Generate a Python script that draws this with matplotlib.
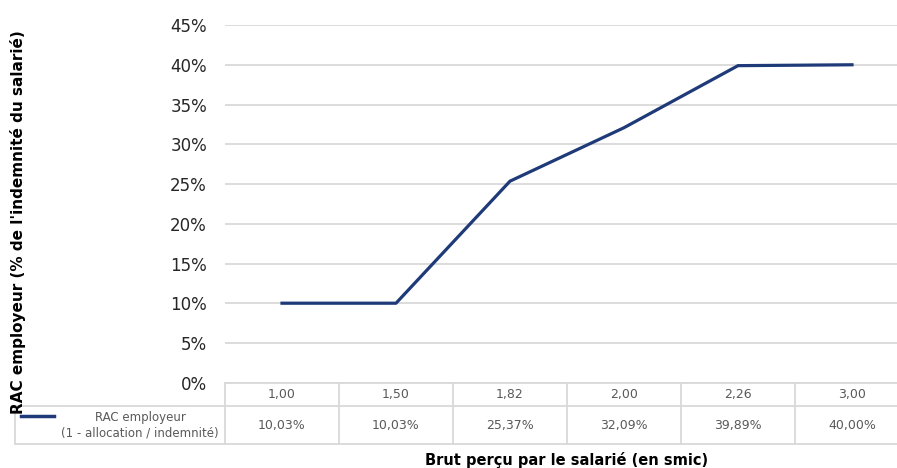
import matplotlib.pyplot as plt
from matplotlib.transforms import blended_transform_factory

# Reste à charge employeur selon le salaire brut (en smic)
salaire_smic = ['1,00', '1,50', '1,82', '2,00', '2,26', '3,00']
rac_employeur = [10.03, 10.03, 25.37, 32.09, 39.89, 40.00]
rac_labels = ['10,03%', '10,03%', '25,37%', '32,09%', '39,89%', '40,00%']
y_ticks = [0, 5, 10, 15, 20, 25, 30, 35, 40, 45]
serie_label = 'RAC employeur\n(1 - allocation / indemnité)'

NAVY = '#1F3A78'
GRID = '#D9D9D9'
TXT = '#595959'

plt.rcParams['font.family'] = ['DejaVu Sans']

W, H = 897, 468
fig = plt.figure(figsize=(W / 100, H / 100), dpi=100)


def fy(px):
    # pixel row from the top -> figure fraction
    return (H - px) / H


ax = fig.add_axes([225 / W, fy(383), (909 - 225) / W, (383 - 25) / H])
x = list(range(len(salaire_smic)))
ax.plot(x, rac_employeur, color=NAVY, lw=2.3, zorder=3)
ax.set_xlim(-0.5, len(x) - 0.5)
ax.set_ylim(0, 45)
ax.set_yticks(y_ticks)
ax.set_yticklabels([f'{v}%' for v in y_ticks], fontsize=12, color='#262626')
ax.set_xticks([])
ax.yaxis.grid(True, color=GRID, lw=1.3)
ax.set_axisbelow(True)
for s in ax.spines.values():
    s.set_visible(False)
ax.tick_params(axis='y', length=0, pad=13)

# data table under the plot
tr = blended_transform_factory(ax.transData, fig.transFigure)
lw_tab = 1.3
row_top, row_mid, row_bot = fy(383), fy(406), fy(444)
x0, x1 = -0.5, len(x) - 0.5

ax.plot([x0, x1], [row_top, row_top], transform=tr, color=GRID, lw=lw_tab, clip_on=False)
for yy in (row_mid, row_bot):
    fig.add_artist(plt.Line2D([15 / W, 1.02], [yy, yy], color=GRID, lw=lw_tab))
for i in range(len(x) + 1):
    ax.plot([i - 0.5, i - 0.5], [row_top, row_bot], transform=tr, color=GRID, lw=lw_tab, clip_on=False)
fig.add_artist(plt.Line2D([15 / W, 15 / W], [row_mid, row_bot], color=GRID, lw=lw_tab))

for i, (s, v) in enumerate(zip(salaire_smic, rac_labels)):
    ax.text(i, (row_top + row_mid) / 2, s, transform=tr, ha='center', va='center',
            fontsize=9, color=TXT)
    ax.text(i, (row_mid + row_bot) / 2, v, transform=tr, ha='center', va='center',
            fontsize=9, color=TXT)

# legend key in the first column of the table
fig.add_artist(plt.Line2D([21 / W, 54 / W], [fy(416), fy(416)], color=NAVY, lw=2.5))
fig.text(140 / W, (row_mid + row_bot) / 2, serie_label, ha='center', va='center',
         fontsize=8.5, color=TXT, linespacing=1.2)

fig.text((225 + 909) / 2 / W, fy(460), 'Brut perçu par le salarié (en smic)',
         ha='center', va='center', fontsize=10.5, fontweight='bold', color='black')
fig.text(18 / W, fy(222), "RAC employeur (% de l'indemnité du salarié)",
         ha='center', va='center', rotation=90, fontsize=11, fontweight='bold', color='black')

fig.savefig('out.png', dpi=100)
